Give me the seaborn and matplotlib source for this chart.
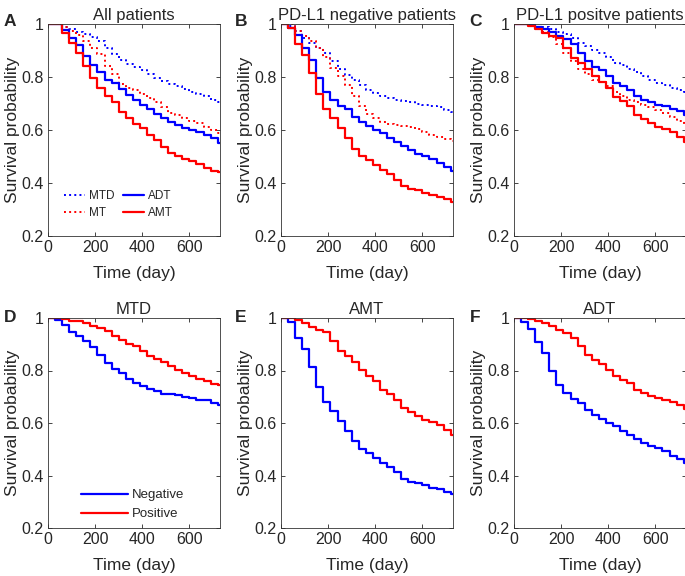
import numpy as np
import pandas as pd
import matplotlib
matplotlib.use('Agg')
import matplotlib.pyplot as plt
import seaborn as sns

# tempo (dias) dos degraus das curvas de sobrevivencia
days = [0, 30, 60, 90, 120, 150, 180, 210, 240, 270, 300, 330, 360,
        390, 420, 450, 480, 510, 540, 570, 600, 630, 660, 690, 720]
t_end = 730

# Todos os pacientes
all_mtd = [1, 1, 0.99, 0.98, 0.97, 0.962, 0.95, 0.935, 0.91, 0.885, 0.865, 0.85, 0.838,
           0.825, 0.81, 0.797, 0.785, 0.775, 0.765, 0.755, 0.745, 0.737, 0.727, 0.715, 0.705]
all_mt = [1, 1, 0.99, 0.975, 0.96, 0.935, 0.91, 0.885, 0.84, 0.81, 0.775, 0.76, 0.75,
          0.735, 0.72, 0.705, 0.685, 0.665, 0.655, 0.645, 0.635, 0.625, 0.612, 0.6, 0.59]
all_adt = [1, 1, 0.977, 0.946, 0.92, 0.879, 0.845, 0.82, 0.79, 0.776, 0.753, 0.732, 0.713,
           0.694, 0.678, 0.662, 0.644, 0.631, 0.618, 0.606, 0.6, 0.591, 0.581, 0.571, 0.552]
all_amt = [1, 1, 0.965, 0.927, 0.89, 0.84, 0.795, 0.757, 0.728, 0.706, 0.669, 0.644, 0.622,
           0.606, 0.581, 0.562, 0.537, 0.514, 0.501, 0.492, 0.482, 0.471, 0.458, 0.446, 0.44]

# PD-L1 negativo
neg_mtd = [1, 0.994, 0.975, 0.946, 0.93, 0.911, 0.89, 0.86, 0.829, 0.806, 0.79, 0.768, 0.752,
           0.74, 0.73, 0.721, 0.712, 0.709, 0.705, 0.7, 0.696, 0.689, 0.686, 0.676, 0.668]
neg_mt = [1, 1, 0.975, 0.955, 0.935, 0.91, 0.875, 0.835, 0.805, 0.77, 0.73, 0.69, 0.66,
          0.645, 0.63, 0.622, 0.618, 0.615, 0.61, 0.602, 0.592, 0.583, 0.575, 0.565, 0.557]
neg_adt = [1, 0.985, 0.958, 0.908, 0.866, 0.798, 0.745, 0.714, 0.69, 0.678, 0.65, 0.631, 0.615,
           0.6, 0.587, 0.571, 0.555, 0.539, 0.524, 0.511, 0.503, 0.492, 0.476, 0.461, 0.446]
neg_amt = [1, 0.986, 0.925, 0.882, 0.814, 0.737, 0.68, 0.645, 0.609, 0.571, 0.53, 0.502, 0.487,
           0.467, 0.449, 0.434, 0.412, 0.388, 0.377, 0.373, 0.363, 0.354, 0.347, 0.339, 0.328]

# PD-L1 positivo
pos_mtd = [1, 1, 0.996, 0.99, 0.987, 0.981, 0.971, 0.962, 0.949, 0.93, 0.917, 0.902, 0.892,
           0.876, 0.854, 0.844, 0.831, 0.818, 0.803, 0.79, 0.778, 0.768, 0.759, 0.75, 0.743]
pos_mt = [1, 1, 0.995, 0.985, 0.97, 0.95, 0.925, 0.89, 0.86, 0.83, 0.81, 0.79, 0.78,
          0.765, 0.745, 0.73, 0.715, 0.705, 0.695, 0.685, 0.675, 0.665, 0.65, 0.635, 0.62]
pos_adt = [1, 1, 0.996, 0.987, 0.981, 0.968, 0.956, 0.943, 0.924, 0.892, 0.86, 0.839, 0.826,
           0.803, 0.778, 0.765, 0.752, 0.727, 0.714, 0.704, 0.695, 0.689, 0.68, 0.67, 0.655]
pos_amt = [1, 1, 0.994, 0.981, 0.966, 0.956, 0.946, 0.911, 0.873, 0.854, 0.831, 0.803, 0.78,
           0.759, 0.724, 0.711, 0.689, 0.657, 0.641, 0.625, 0.613, 0.602, 0.594, 0.575, 0.556]

top_titles = ['All patients', 'PD-L1 negative patients', 'PD-L1 positve patients']
bottom_titles = ['MTD', 'AMT', 'ADT']
letters = ['A', 'B', 'C', 'D', 'E', 'F']

sns.set_theme(style='ticks')
plt.rcParams['font.family'] = ['Liberation Sans', 'DejaVu Sans']
plt.rcParams['xtick.direction'] = 'in'
plt.rcParams['ytick.direction'] = 'in'


def km(ax, vals, color, ls, lw, label=None):
    t = days + [t_end]
    v = list(vals) + [vals[-1]]
    df = pd.DataFrame({'t': t, 's': v})
    sns.lineplot(data=df, x='t', y='s', ax=ax, color=color, linestyle=ls,
                 linewidth=lw, drawstyle='steps-post', label=label, legend=False)


fig = plt.figure(figsize=(6.85, 5.76), dpi=100)
lefts = [48 / 685, 281 / 685, 514 / 685]
w = 172 / 685
rows = [(1 - 236 / 576, 212 / 576), (1 - 528 / 576, 210 / 576)]
axes = []
for r, (b, h) in enumerate(rows):
    for c in range(3):
        axes.append(fig.add_axes([lefts[c], b, w, h]))

top_sets = [(all_mtd, all_mt, all_adt, all_amt),
            (neg_mtd, neg_mt, neg_adt, neg_amt),
            (pos_mtd, pos_mt, pos_adt, pos_amt)]
for i, (mtd, mt, adt, amt) in enumerate(top_sets):
    ax = axes[i]
    km(ax, mtd, 'blue', ':', 1.4, 'MTD')
    km(ax, mt, 'red', ':', 1.4, 'MT')
    km(ax, adt, 'blue', '-', 1.6, 'ADT')
    km(ax, amt, 'red', '-', 1.6, 'AMT')
    ax.set_title(top_titles[i], fontsize=12, pad=3)

axes[0].legend(ncol=2, loc='lower left', bbox_to_anchor=(0.03, 0.03), frameon=False,
               fontsize=8.5, handlelength=1.8, columnspacing=0.7, handletextpad=0.35,
               labelspacing=0.45)

bottom_sets = [(neg_mtd, pos_mtd), (neg_amt, pos_amt), (neg_adt, pos_adt)]
for i, (neg, pos) in enumerate(bottom_sets):
    ax = axes[3 + i]
    km(ax, neg, 'blue', '-', 1.6, 'Negative')
    km(ax, pos, 'red', '-', 1.6, 'Positive')
    ax.set_title(bottom_titles[i], fontsize=12, pad=3)

axes[3].legend(loc='lower left', bbox_to_anchor=(0.12, -0.02), frameon=False,
               fontsize=9.5, handlelength=3.6, handletextpad=0.3, labelspacing=0.5)

for ax in axes:
    ax.set_xlim(0, 730)
    ax.set_ylim(0.2, 1)
    ax.set_xticks([0, 200, 400, 600])
    ax.set_yticks([0.2, 0.4, 0.6, 0.8, 1.0])
    ax.set_yticklabels(['0.2', '0.4', '0.6', '0.8', '1'])
    ax.tick_params(labelsize=11.5, top=True, right=True, length=3, width=0.6, pad=3)
    for s in ax.spines.values():
        s.set_linewidth(0.6)
        s.set_color('#333333')
    ax.set_xlabel('Time (day)', fontsize=12.5, labelpad=8)
    ax.set_ylabel('Survival probability', fontsize=12.5, labelpad=1)

letter_pos = [(10, 22), (241, 22), (475, 22), (10, 318), (241, 318), (475, 318)]
for L, (x, y) in zip(letters, letter_pos):
    fig.text(x / 685, 1 - y / 576, L, fontsize=12.5, fontweight='bold', ha='center', va='center')

fig.savefig('out.png', dpi=100)
